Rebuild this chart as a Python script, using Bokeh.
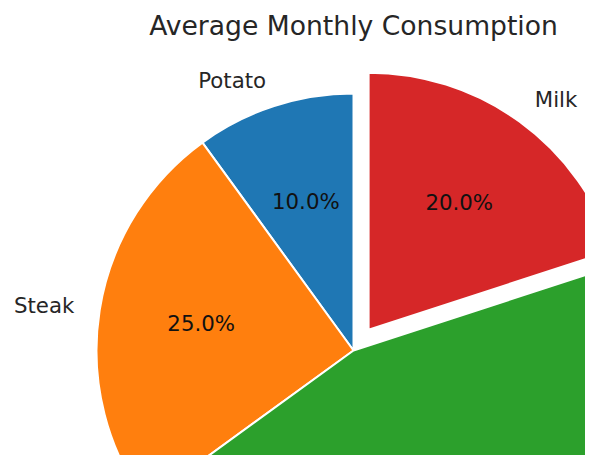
import math
from bokeh.plotting import figure
from bokeh.models import Range1d, ColumnDataSource
from bokeh.core.properties import value
from bokeh.embed import file_html
from bokeh.resources import INLINE

# ---- data ----
categories = ["Potato", "Steak", "Bread", "Milk"]
shares = [10.0, 25.0, 45.0, 20.0]
explode = [0.0, 0.0, 0.0, 0.1]
colors = ["#1f77b4", "#ff7f0e", "#2ca02c", "#d62728"]
title_text = "Average Monthly Consumption"

# ---- layout (screen pixels of the pie centre / radius) ----
CX, CY, R = 353.0, 350.0, 257.0
W, H = 585, 455
x0, x1 = (0 - CX) / R, (W - CX) / R
y0, y1 = (CY - H) / R, (CY - 0) / R

p = figure(width=W, height=H, x_range=Range1d(x0, x1), y_range=Range1d(y0, y1),
           x_axis_type=None, y_axis_type=None, toolbar_location=None,
           output_backend="svg", min_border=0)
p.grid.visible = False
p.outline_line_color = None
p.background_fill_color = "white"
p.border_fill_color = "white"

total = sum(shares)
start = 90.0
wx, wy, sa, ea = [], [], [], []
lab_x, lab_y, lab_t, lab_a = [], [], [], []
pct_x, pct_y, pct_t = [], [], []
for name, v, ex in zip(categories, shares, explode):
    span = 360.0 * v / total
    mid = math.radians(start + span / 2)
    ox, oy = ex * math.cos(mid), ex * math.sin(mid)
    wx.append(ox); wy.append(oy)
    sa.append(math.radians(start)); ea.append(math.radians(start + span))
    lx, ly = ox + 1.1 * math.cos(mid), oy + 1.1 * math.sin(mid)
    if x0 < lx < x1 and y0 + 0.03 < ly < y1:
        lab_x.append(lx); lab_y.append(ly + 1.0 / R); lab_t.append(name)
        lab_a.append("left" if lx > 0 else "right")
    px, py = ox + 0.6 * math.cos(mid), oy + 0.6 * math.sin(mid)
    if x0 < px < x1 and y0 + 0.05 < py < y1:
        pct_x.append(px); pct_y.append(py + 2.5 / R); pct_t.append(f"{100*v/total:.1f}%")
    start += span

src = ColumnDataSource(dict(x=wx, y=wy, sa=sa, ea=ea, color=colors))
p.wedge(x="x", y="y", radius=1.0, start_angle="sa", end_angle="ea",
        direction="anticlock", fill_color="color", line_color="white",
        line_width=2, source=src)

p.text(x=lab_x, y=lab_y, text=lab_t, text_align=lab_a, text_baseline="middle",
       text_font=value("DejaVu Sans"), text_font_size="21.3px", text_color="#262626")
p.text(x=pct_x, y=pct_y, text=pct_t, text_align="center", text_baseline="middle",
       text_font=value("DejaVu Sans"), text_font_size="21.3px", text_color="#111111")
p.text(x=[0.0], y=[(CY - 25) / R], text=[title_text], text_align="center",
       text_baseline="middle", text_font=value("DejaVu Sans"),
       text_font_size="26.6px", text_color="#262626")

open("out.html", "w").write(file_html(p, INLINE))
